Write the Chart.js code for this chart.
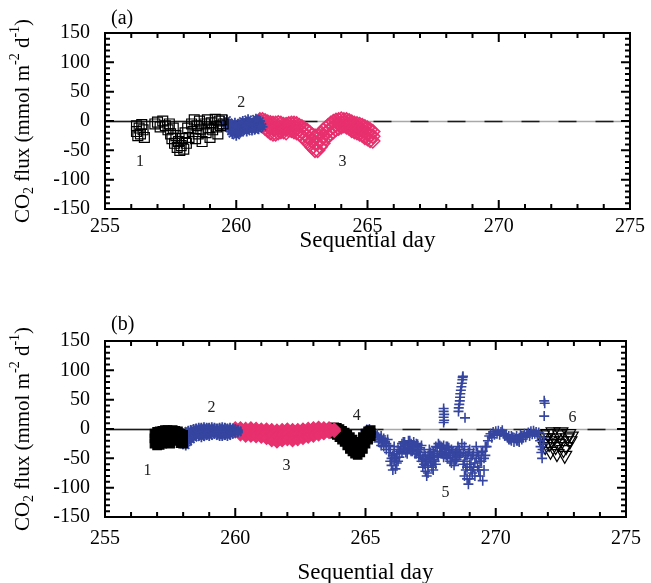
<!DOCTYPE html>
<html lang="en">
<head>
<meta charset="UTF-8">
<title>CO2 flux vs sequential day</title>
<script src="https://cdn.jsdelivr.net/npm/chart.js"></script>
<style>
  body { margin: 0; background: #fff; }
  .panel { position: absolute; left: 0; width: 651px; }
  #panelA { top: 0; height: 290px; }
  #panelB { top: 290px; height: 293px; }
</style>
</head>
<body>
<div class="panel" id="panelA"><canvas id="chartA" width="651" height="290"></canvas></div>
<div class="panel" id="panelB"><canvas id="chartB" width="651" height="293"></canvas></div>

<script>
// ---- axis ----
const xTicks = [255, 260, 265, 270, 275];
const yTicks = [-150, -100, -50, 0, 50, 100, 150];

// ---- panel (a) ----
// 1: open squares [day, flux]
const a1 = [[256.2,-8],[256.2,-18],[256.25,-25],[256.3,-12],[256.35,-22],[256.4,-6],[256.45,-15],[256.5,-28],
  [256.9,-5],[257.0,-2],[257.1,-10],[257.2,0],[257.3,-8],[257.4,-15],[257.45,-5],[257.5,-22],[257.55,-30],
  [257.6,-12],[257.65,-38],[257.7,-25],[257.75,-45],[257.8,-35],[257.85,-50],[257.9,-42],[257.95,-30],
  [258.0,-48],[258.05,-20],[258.1,-38],[258.15,-12],[258.2,-28],[258.3,-5],[258.35,-18],[258.4,2],
  [258.45,-30],[258.5,-8],[258.55,-22],[258.6,0],[258.65,-14],[258.7,-35],[258.8,-5],[258.85,-20],
  [258.9,2],[258.95,-12],[259.0,-28],[259.05,-3],[259.1,-15],[259.2,3],[259.25,-10],[259.3,-22],
  [259.35,0],[259.4,-8],[259.45,2],[259.5,-5]];
// 2: blue
const a2 = [[259.55,-2],[259.6,-8],[259.65,2],[259.7,-12],[259.75,-5],[259.8,-18],[259.85,-22],[259.9,-10],
  [259.95,-3],[260.0,-25],[260.05,-15],[260.1,-6],[260.15,-20],[260.2,-10],[260.25,0],[260.3,-14],
  [260.35,-8],[260.4,-18],[260.45,3],[260.5,-12],[260.55,-5],[260.6,-16],[260.65,-2],[260.7,-10],
  [260.75,4],[260.8,-8],[260.85,-14],[260.9,0],[260.95,-6],[261.0,-10],
  [259.7,-2],[259.8,-8],[259.9,-18],[260.0,-10],[260.1,-20],[260.2,-3],[260.3,-5],[260.4,-8],
  [260.5,-2],[260.6,-6],[260.7,-15],[260.8,2],[260.9,-10]];
// 3: pink band (top / middle / bottom of the cloud)
const a3Days = [260.9,261.0,261.1,261.2,261.3,261.4,261.5,261.6,261.7,261.8,261.9,262.0,262.1,262.2,262.3,
  262.4,262.5,262.6,262.7,262.8,262.9,263.0,263.1,263.2,263.3,263.4,263.5,263.6,263.7,263.8,263.9,264.0,
  264.1,264.2,264.3,264.4,264.5,264.6,264.7,264.8,264.9,265.0,265.1,265.2];
const a3Top = [2,2,0,-2,-3,-4,-4,-3,-4,-6,-6,-5,-4,-4,-5,-8,-10,-13,-16,-20,-24,-26,-26,-22,-16,-12,-8,-4,-1,1,
  2,3,2,2,0,-2,-4,-5,-6,-8,-10,-12,-15,-18];
const a3Mid = [0,-3,-6,-9,-12,-13,-13,-12,-11,-12,-13,-10,-10,-11,-12,-15,-18,-22,-26,-30,-34,-38,-38,-33,-27,
  -21,-17,-13,-10,-7,-5,-4,-3,-4,-6,-9,-11,-12,-14,-16,-19,-21,-24,-26];
const a3Bot = [-3,-8,-12,-16,-20,-22,-22,-20,-18,-18,-20,-15,-16,-18,-20,-22,-26,-30,-35,-40,-45,-50,-50,-44,
  -38,-30,-26,-22,-18,-14,-12,-10,-8,-10,-12,-16,-18,-20,-22,-24,-28,-30,-33,-34];
const aLabels = ['1', '2', '3'];
const aLabelDays = [256.33, 260.19, 264.05];
const aLabelVals = [-70, 31, -70];

// ---- panel (b) ----
const b1Days = [256.9,257.0,257.1,257.2,257.3,257.4,257.5,257.6,257.7,257.8,257.9,258.0];
const b1Top = [-8,-5,-4,-3,-2,-2,-3,-2,-3,-4,-8,-10];
const b1Mid = [-16,-16,-15,-14,-12,-13,-14,-11,-10,-12,-16,-18];
const b1Bot = [-25,-28,-27,-25,-22,-24,-25,-20,-18,-20,-24,-25];

const b2Days = [258.0,258.1,258.2,258.3,258.4,258.5,258.6,258.7,258.8,258.9,259.0,259.1,259.2,259.3,259.4,
  259.5,259.6,259.7,259.8,259.9,260.0,260.1];
const b2Top = [-8,-5,-3,-2,0,1,2,2,3,2,2,3,2,1,2,3,2,1,2,1,0,-2];
const b2Mid = [-17,-16,-12,-10,-8,-6,-5,-6,-5,-4,-5,-4,-3,-4,-5,-5,-4,-5,-4,-3,-3,-4];
const b2Bot = [-26,-28,-22,-18,-15,-12,-12,-14,-12,-10,-12,-10,-8,-10,-12,-12,-10,-12,-10,-8,-6,-6];

const b3Days = [260.0,260.2,260.4,260.6,260.8,261.0,261.2,261.4,261.6,261.8,262.0,262.2,262.4,262.6,262.8,
  263.0,263.2,263.4,263.6,263.8];
const b3Top = [2,2,1,2,1,0,0,-1,-2,-1,0,-1,-1,0,1,2,3,2,2,0];
const b3Mid = [-2,-4,-5,-5,-6,-7,-8,-10,-12,-10,-9,-10,-9,-8,-6,-5,-4,-3,-2,-2];
const b3Bot = [-5,-10,-12,-12,-13,-14,-16,-20,-22,-20,-18,-20,-18,-16,-14,-12,-10,-8,-6,-4];

const b4Days = [263.7,263.8,263.9,264.0,264.1,264.2,264.3,264.4,264.5,264.6,264.7,264.8,264.9,265.0,265.1,265.2];
const b4Top = [2,3,2,0,-3,-6,-10,-14,-18,-24,-28,-22,-14,-8,-4,-2];
const b4Mid = [-2,-3,-4,-7,-10,-14,-19,-24,-28,-33,-36,-31,-24,-16,-11,-7];
const b4Bot = [-6,-8,-10,-14,-18,-22,-28,-34,-38,-42,-44,-40,-34,-25,-18,-12];

// 5: blue crosses [day, flux]
const b5 = [[265.0,-3],[265.05,-1],[265.1,-5],[265.15,0],[265.2,-4],[265.25,-8],[265.3,-6],[265.35,-10],
  [265.4,-12],[265.45,-9],[265.5,-14],[265.55,-18],[265.6,-12],[265.65,-20],[265.7,-16],[265.75,-22],
  [265.8,-25],[265.85,-18],[265.9,-28],[265.9,-40],[265.95,-35],[266.0,-50],[266.0,-62],[266.05,-45],
  [266.1,-55],[266.1,-30],[266.15,-68],[266.2,-42],[266.2,-58],[266.25,-35],[266.3,-48],[266.35,-30],
  [266.4,-25],[266.45,-35],[266.5,-22],[266.55,-40],[266.6,-28],[266.65,-20],[266.7,-32],[266.75,-25],
  [266.8,-38],[266.85,-22],[266.9,-30],[266.95,-42],[267.0,-26],[267.05,-35],[267.1,-45],[267.15,-28],
  [267.2,-50],[267.2,-65],[267.25,-40],[267.3,-72],[267.3,-55],[267.35,-80],[267.4,-45],[267.4,-62],
  [267.45,-35],[267.5,-58],[267.55,-48],[267.6,-70],[267.6,-38],[267.65,-55],[267.7,-30],[267.75,-45],
  [267.8,-25],[267.85,-38],[267.9,-30],[267.95,-42],[268.0,-28],[268.05,-35],[268.1,-45],[268.15,-30],
  [268.2,-40],[268.25,-55],[268.3,-35],[268.35,-48],[268.4,-62],[268.45,-40],[268.5,-52],[268.55,-30],
  [268.6,-45],
  [268.0,35],[268.0,30],[268.02,25],[268.0,20],[268.02,15],[268.0,11],
  [268.57,30],[268.58,36],[268.6,42],[268.62,48],[268.63,54],[268.64,60],[268.66,66],[268.68,72],
  [268.7,78],[268.72,84],[268.74,90],[268.73,88],[268.82,19],
  [268.7,-25],[268.75,-40],[268.8,-55],[268.8,-30],[268.85,-70],[268.9,-85],[268.9,-45],[268.95,-94],
  [269.0,-60],[269.0,-35],[269.05,-50],[269.1,-75],[269.15,-40],[269.2,-58],[269.25,-30],[269.3,-65],
  [269.35,-45],[269.4,-80],[269.45,-55],[269.5,-88],[269.5,-38],[269.55,-70],
  [269.6,-45],[269.65,-30],[269.7,-20],[269.75,-12],[269.8,-8],[269.85,-15],[269.9,-5],[269.95,-10],
  [270.0,-4],[270.05,-8],[270.1,-3],[270.15,-10],[270.2,-5],[270.25,-2],[270.3,-8],[270.35,-12],
  [270.4,-10],[270.45,-15],[270.5,-12],[270.55,-18],[270.6,-20],[270.65,-14],[270.7,-22],[270.75,-16],
  [270.8,-12],[270.85,-20],[270.9,-15],[270.95,-10],[271.0,-18],[271.05,-12],[271.1,-8],[271.15,-14],
  [271.2,-10],[271.25,-6],[271.3,-12],[271.35,-4],[271.4,-9],[271.45,-3],[271.5,-8],[271.55,-5],
  [271.6,-12],[271.65,-6],[271.7,-20],[271.72,-30],[271.75,-40],[271.78,-50],[271.8,-35],[271.82,-25],
  [271.85,-15],[271.86,48],[271.88,44],[271.86,22],
  [265.5,-22],[265.6,-28],[265.7,-30],[265.8,-35],[265.95,-55],[266.05,-70],[266.1,-42],[266.15,-50],
  [266.25,-55],[266.3,-38],[266.4,-40],[266.45,-22],[266.5,-35],[266.55,-28],[266.6,-42],[266.65,-32],
  [266.7,-20],[266.75,-38],[266.8,-28],[266.85,-35],[266.9,-42],[266.95,-25],[267.0,-38],[267.05,-48],
  [267.1,-32],[267.15,-55],[267.25,-60],[267.3,-45],[267.35,-52],[267.4,-75],[267.45,-50],[267.5,-40],
  [267.55,-65],[267.6,-52],[267.65,-42],[267.7,-60],[267.75,-32],[267.8,-48],[267.85,-28],[267.9,-42],
  [267.95,-32],[268.0,-48],[268.05,-40],[268.1,-30],[268.15,-50],[268.2,-32],[268.25,-42],[268.3,-58],
  [268.35,-38],[268.4,-45],[268.45,-55],[268.5,-38],[268.55,-48],[268.6,-35],[268.65,-42],
  [268.75,-60],[268.8,-80],[268.85,-45],[268.9,-65],[268.95,-40],[269.0,-85],[269.05,-70],[269.1,-45],
  [269.15,-65],[269.2,-80],[269.25,-50],[269.3,-40],[269.35,-70],[269.4,-55],[269.45,-40],[269.55,-50],
  [269.6,-30],[270.5,-18],[270.6,-12],[270.7,-15],[270.8,-20],[270.9,-22],[271.0,-12]];
// 6: open down-triangles
const b6 = [[271.8,-10],[271.85,-20],[271.9,-30],[271.95,-15],[272.0,-8],[272.05,-25],[272.1,-38],
  [272.15,-20],[272.2,-5],[272.25,-15],[272.3,-30],[272.35,-42],[272.4,-25],[272.45,-10],[272.5,-5],
  [272.55,-20],[272.6,-35],[272.65,-45],[272.7,-30],[272.75,-15],[272.8,-8],[272.85,-20],[272.9,-12]];
const bLabels = ['1', '2', '3', '4', '5', '6'];
const bLabelDays = [256.63, 259.09, 261.97, 264.66, 268.07, 272.95];
const bLabelVals = [-72, 36, -63, 22, -109, 19];

// ---- helpers ----
const SERIF = "'Liberation Serif', 'Times New Roman', serif";
const BLUE = '#3545a0';
const PINK = '#e8306e';

function pairs(arr) { return arr.map(p => ({ x: p[0], y: p[1] })); }
function band(days, top, mid, bot) {
  const pts = [];
  days.forEach((d, i) => {
    pts.push({ x: d, y: top[i] }, { x: d, y: mid[i] }, { x: d, y: bot[i] });
  });
  return pts;
}

// frame, inward ticks, zero line, annotations and titles
const framePlugin = {
  id: 'frame',
  beforeDatasetsDraw(chart, args, opts) {
    const { ctx, chartArea: ca, scales: { x, y } } = chart;
    const y0 = Math.round(y.getPixelForValue(0)) + 0.5;
    const xs = x.getPixelForValue(opts.solidTo);
    ctx.save();
    ctx.lineWidth = 1.5;
    ctx.strokeStyle = '#a8a8a8';
    ctx.beginPath(); ctx.moveTo(ca.left, y0); ctx.lineTo(ca.right, y0); ctx.stroke();
    ctx.strokeStyle = '#1a1a1a';
    ctx.beginPath(); ctx.moveTo(ca.left, y0); ctx.lineTo(xs, y0); ctx.stroke();
    ctx.setLineDash([18, 19]);
    ctx.beginPath(); ctx.moveTo(xs, y0); ctx.lineTo(ca.right, y0); ctx.stroke();
    ctx.restore();
  },
  afterDraw(chart, args, opts) {
    const { ctx, chartArea: ca, scales: { x, y } } = chart;
    ctx.save();
    ctx.strokeStyle = '#000';
    ctx.lineWidth = 2;
    ctx.strokeRect(ca.left, ca.top, ca.right - ca.left, ca.bottom - ca.top);

    ctx.lineWidth = 2;
    ctx.beginPath();
    for (let d = 255; d <= 275; d++) {
      const px = x.getPixelForValue(d);
      const len = d % 5 === 0 ? 9 : 5;
      ctx.moveTo(px, ca.bottom); ctx.lineTo(px, ca.bottom - len);
      ctx.moveTo(px, ca.top); ctx.lineTo(px, ca.top + len);
    }
    for (let v = -150; v <= 150; v += 10) {
      const py = y.getPixelForValue(v);
      const len = v % 50 === 0 ? 9 : 5;
      ctx.moveTo(ca.left, py); ctx.lineTo(ca.left + len, py);
      ctx.moveTo(ca.right, py); ctx.lineTo(ca.right - len, py);
    }
    ctx.stroke();

    ctx.fillStyle = '#222';
    ctx.textAlign = 'center';
    ctx.textBaseline = 'middle';
    ctx.font = '16px ' + SERIF;
    opts.labels.forEach((t, i) => {
      ctx.fillText(t, x.getPixelForValue(opts.labelDays[i]), y.getPixelForValue(opts.labelVals[i]));
    });

    ctx.fillStyle = '#000';
    ctx.textAlign = 'left';
    ctx.font = '20px ' + SERIF;
    ctx.fillText(opts.tag, 111, opts.tagY);

    ctx.textAlign = 'center';
    ctx.font = '23px ' + SERIF;
    ctx.fillText('Sequential day', (ca.left + ca.right) / 2, opts.xTitleY);

    // y title with sub/superscripts
    const size = 21;
    const parts = [['CO', 0], ['2', -1], [' flux (mmol m', 0], ['-2', 1], [' d', 0], ['-1', 1], [')', 0]];
    const fontFor = k => (k === 0 ? size : Math.round(size * 0.68)) + 'px ' + SERIF;
    let total = 0;
    parts.forEach(([t, k]) => { ctx.font = fontFor(k); total += ctx.measureText(t).width; });
    ctx.translate(23, (ca.top + ca.bottom) / 2);
    ctx.rotate(-Math.PI / 2);
    ctx.textAlign = 'left';
    let cx = -total / 2;
    parts.forEach(([t, k]) => {
      ctx.font = fontFor(k);
      const dy = k === -1 ? size * 0.3 : (k === 1 ? -size * 0.38 : 0);
      ctx.fillText(t, cx, dy);
      cx += ctx.measureText(t).width;
    });
    ctx.restore();
  }
};

function makeChart(id, datasets, cfg) {
  return new Chart(document.getElementById(id), {
    type: 'scatter',
    data: { datasets },
    options: {
      responsive: false,
      animation: false,
      layout: { padding: { top: cfg.top, right: 18, left: 0, bottom: 0 } },
      plugins: { legend: { display: false }, tooltip: { enabled: false }, frame: cfg.frame },
      scales: {
        x: {
          type: 'linear', min: 255, max: 275,
          afterFit(s) { s.height = cfg.xHeight; },
          afterBuildTicks(s) { s.ticks = xTicks.map(v => ({ value: v })); },
          grid: { display: false, drawTicks: false },
          border: { display: false },
          ticks: { padding: cfg.xPad, color: '#000', font: { family: SERIF, size: 20 } }
        },
        y: {
          min: -150, max: 150,
          afterFit(s) { s.width = 105; },
          afterBuildTicks(s) { s.ticks = yTicks.map(v => ({ value: v })); },
          grid: { display: false, drawTicks: false },
          border: { display: false },
          ticks: { padding: 15, color: '#000', font: { family: SERIF, size: 20 } }
        }
      }
    },
    plugins: [framePlugin]
  });
}

const open = 'rgba(255,255,255,0)';

makeChart('chartA', [
  { data: pairs(a1), pointStyle: 'rect', pointRadius: 7, borderColor: '#000', backgroundColor: open, borderWidth: 1.2 },
  { data: pairs(a2), pointStyle: 'star', pointRadius: 5, borderColor: BLUE, backgroundColor: BLUE, borderWidth: 1.8 },
  { data: band(a3Days, a3Top, a3Mid, a3Bot), pointStyle: 'rectRot', pointRadius: 7, borderColor: PINK, backgroundColor: open, borderWidth: 1.6 }
], {
  top: 33, xHeight: 81, xPad: 6,
  frame: { solidTo: 261, labels: aLabels, labelDays: aLabelDays, labelVals: aLabelVals, tag: '(a)', tagY: 19, xTitleY: 241 }
});

makeChart('chartB', [
  { data: band(b1Days, b1Top, b1Mid, b1Bot), pointStyle: 'rect', pointRadius: 6, borderColor: '#000', backgroundColor: '#000', borderWidth: 1.2 },
  { data: band(b2Days, b2Top, b2Mid, b2Bot), pointStyle: 'star', pointRadius: 5, borderColor: BLUE, backgroundColor: BLUE, borderWidth: 1.8 },
  { data: band(b3Days, b3Top, b3Mid, b3Bot), pointStyle: 'rectRot', pointRadius: 6, borderColor: PINK, backgroundColor: PINK, borderWidth: 1.2 },
  { data: band(b4Days, b4Top, b4Mid, b4Bot), pointStyle: 'rect', pointRadius: 6, borderColor: '#000', backgroundColor: '#000', borderWidth: 1.2 },
  { data: pairs(b5), pointStyle: 'cross', pointRadius: 5, borderColor: BLUE, borderWidth: 1.6 },
  { data: pairs(b6), pointStyle: 'triangle', rotation: 180, pointRadius: 8, borderColor: '#000', backgroundColor: open, borderWidth: 1.2 }
], {
  top: 51, xHeight: 66, xPad: 10,
  frame: { solidTo: 265, labels: bLabels, labelDays: bLabelDays, labelVals: bLabelVals, tag: '(b)', tagY: 35, xTitleY: 283 }
});
</script>
</body>
</html>
